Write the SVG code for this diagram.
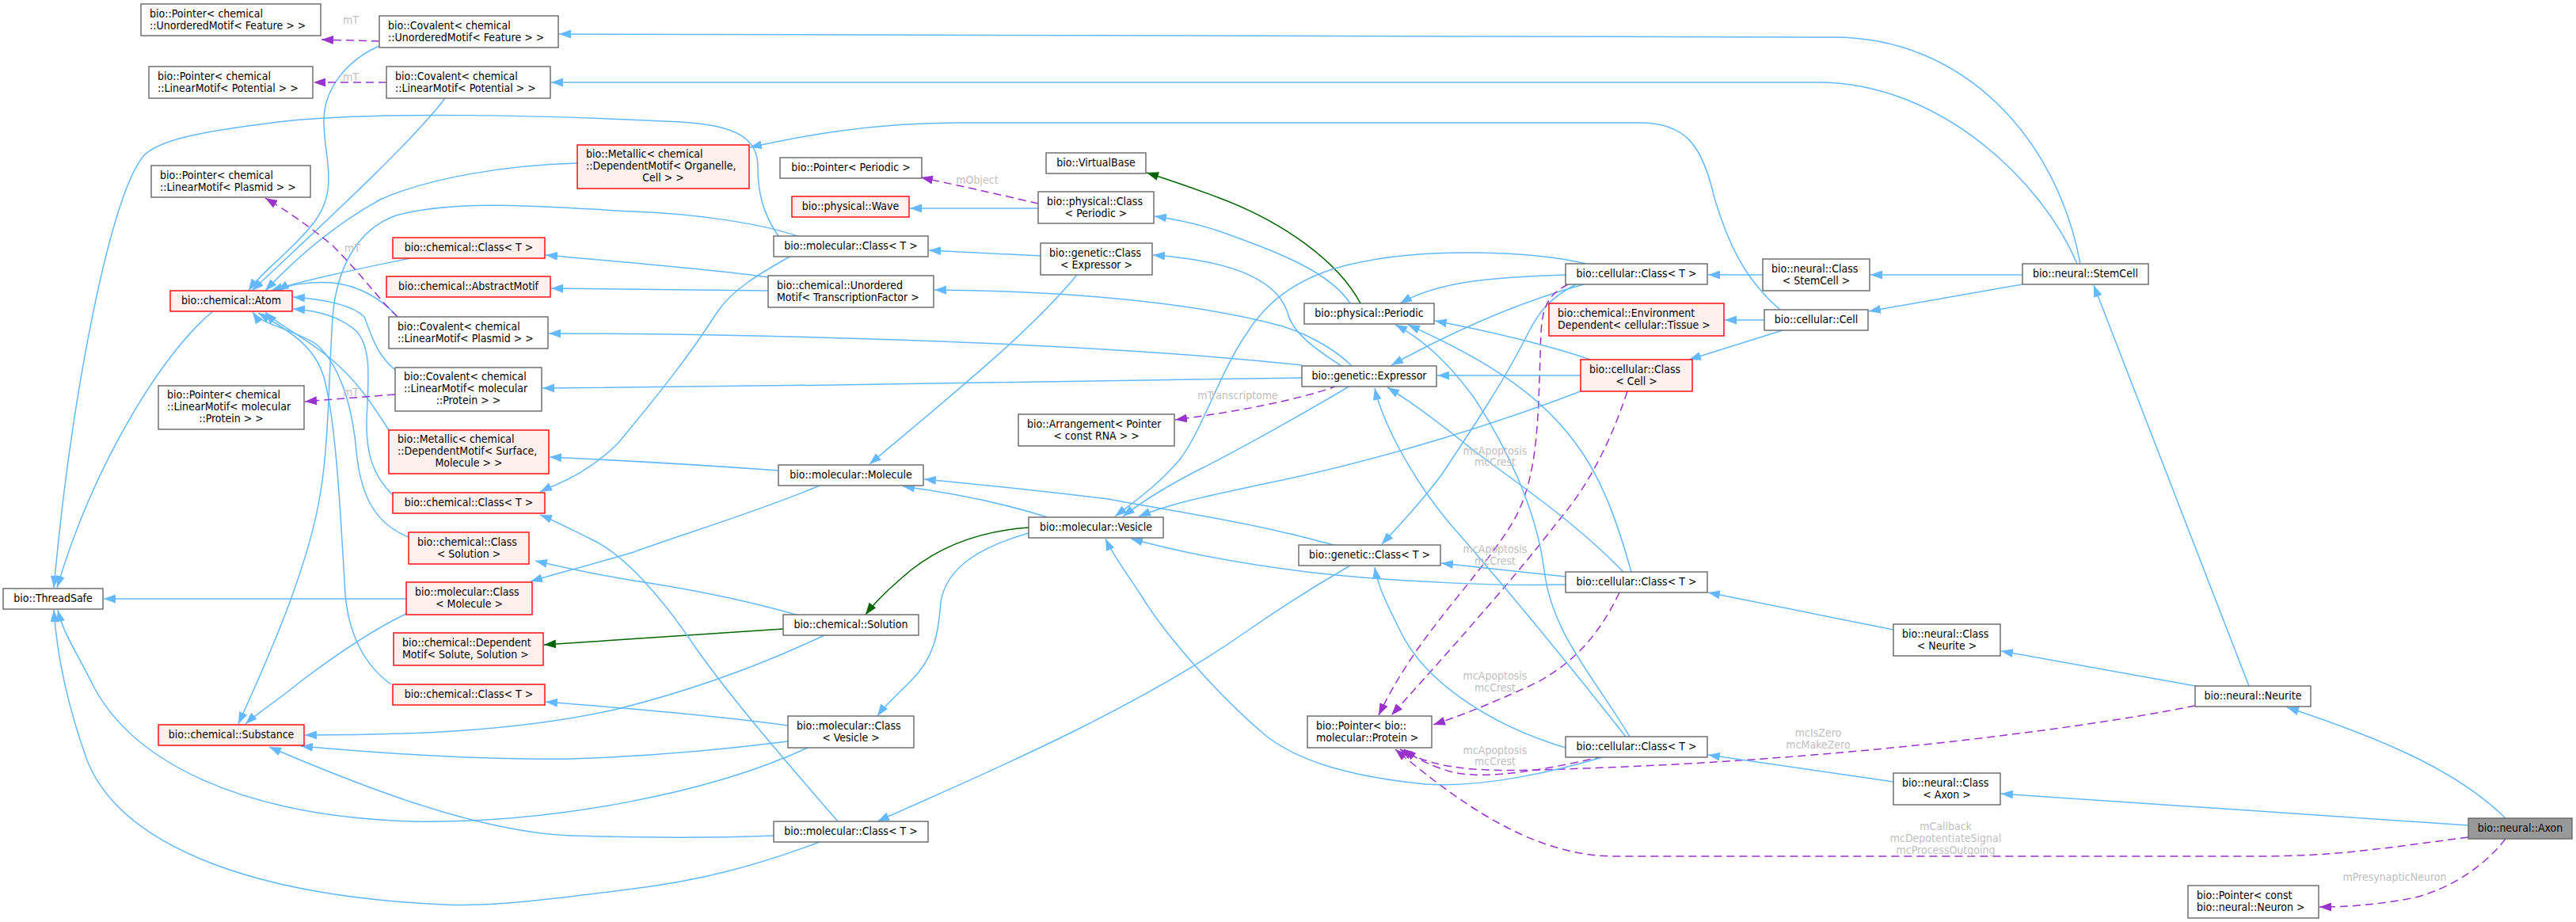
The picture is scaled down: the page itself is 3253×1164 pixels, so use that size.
<svg xmlns="http://www.w3.org/2000/svg" width="3253" height="1164" viewBox="0 0 3253 1164">
<style>
.n rect{fill:#fff;stroke:#666;stroke-width:1.4}
.r rect{fill:#FFF0F0;stroke:#FF0000;stroke-width:1.4}
.m rect{fill:#999;stroke:#666;stroke-width:1.4}
text{font-family:'DejaVu Sans Condensed','Liberation Sans',Arial,sans-serif;font-size:14px;fill:#000}
.c{text-anchor:middle}
.l{text-anchor:start}
.lb{fill:#C0C0C0;text-anchor:middle}
#edges path{fill:none}
.b{stroke:#63B8FF;stroke-width:1.5;marker-end:url(#ab)}
.g{stroke:#006400;stroke-width:1.5;marker-end:url(#ag)}
.d{stroke:#9A32CD;stroke-width:1.5;stroke-dasharray:10,6;marker-end:url(#ad)}
</style>
<defs>
<marker id="ab" markerUnits="userSpaceOnUse" markerWidth="15" markerHeight="11" refX="15" refY="5.5" orient="auto"><path d="M0,0 L15,5.5 L0,11 z" fill="#63B8FF" stroke="none"/></marker>
<marker id="ag" markerUnits="userSpaceOnUse" markerWidth="15" markerHeight="11" refX="15" refY="5.5" orient="auto"><path d="M0,0 L15,5.5 L0,11 z" fill="#006400" stroke="none"/></marker>
<marker id="ad" markerUnits="userSpaceOnUse" markerWidth="15" markerHeight="11" refX="15" refY="5.5" orient="auto"><path d="M0,0 L15,5.5 L0,11 z" fill="#9A32CD" stroke="none"/></marker>
</defs>
<rect x="0" y="0" width="3253" height="1164" fill="#fff"/>
<g id="edges">
<path class="b" d="M2627,333 C2598,175 2480,47 2316,47 L706,43"/>
<path class="b" d="M2623,333 C2580,230 2450,104 2296,104 L696,104"/>
<path class="b" d="M2248,391 C2200,350 2180,300 2165,250 C2150,185 2130,155 2071,155 L1210,155 C1100,155 1010,172 947,186"/>
<path class="b" d="M983,298 C962,268 957,240 957,210 C957,175 930,158 860,154 C700,146 480,140 360,153 C260,165 205,175 183,195 C140,240 90,500 68,742"/>
<path class="b" d="M269,393 C210,440 120,580 72,742"/>
<path class="b" d="M513,756 L131,756"/>
<path class="b" d="M1020,944 C900,1000 700,1040 520,1037 C300,1030 170,960 120,870 C95,820 80,800 73,770"/>
<path class="b" d="M1035,1063 C950,1095 880,1112 800,1122 C700,1135 620,1145 560,1142 C300,1130 150,1060 110,960 C85,890 72,830 68,770"/>
<path class="b" d="M479,58 C440,75 410,110 409,150 C408,180 418,210 414,240 C410,270 390,290 370,310 C345,335 325,350 314,367"/>
<path class="b" d="M562,124 C520,180 400,290 318,367"/>
<path class="b" d="M729,206 C640,208 540,225 480,252 C420,285 370,330 335,367"/>
<path class="b" d="M518,326 C460,338 390,352 342,367"/>
<path class="b" d="M502,400 C480,375 450,360 420,357 C390,355 362,360 350,367"/>
<path class="b" d="M499,467 C475,448 468,420 460,400 C445,385 410,378 370,375"/>
<path class="b" d="M496,625 C470,600 462,570 463,530 C465,480 470,440 450,418 C430,400 400,392 370,390"/>
<path class="b" d="M491,543 C470,510 450,480 420,455 C385,425 350,410 335,394"/>
<path class="b" d="M516,678 C470,660 455,620 450,570 C445,510 428,460 400,435 C370,415 330,410 319,394"/>
<path class="b" d="M494,864 C460,840 440,800 436,750 C430,650 425,540 410,480 C400,440 370,420 326,395"/>
<path class="b" d="M1007,298 C960,282 880,270 800,267 C700,262 580,250 500,272 C450,290 425,340 420,400 C415,480 415,560 405,620 C390,720 330,850 301,914"/>
<path class="b" d="M999,323 C960,345 925,365 905,395 C870,450 830,500 780,560 C740,600 700,612 682,621"/>
<path class="b" d="M970,350 C900,340 800,332 689,322"/>
<path class="b" d="M970,367 L696,364"/>
<path class="b" d="M1707,462 C1690,445 1660,425 1620,412 C1540,390 1400,368 1180,366"/>
<path class="b" d="M1694,462 C1660,440 1632,420 1626,395 C1615,360 1570,330 1456,322"/>
<path class="b" d="M1644,461 C1450,440 1100,422 693,421"/>
<path class="b" d="M1644,477 C1400,480 1000,488 685,490"/>
<path class="b" d="M1705,487 C1650,520 1560,570 1520,590 C1470,615 1440,635 1418,652"/>
<path class="d" d="M1689,487 C1640,505 1560,520 1484,530"/>
<path class="b" d="M1360,347 C1300,420 1200,500 1098,586"/>
<path class="b" d="M1314,323 L1173,316"/>
<path class="b" d="M1311,263 L1149,263"/>
<path class="d" d="M1311,257 C1260,245 1200,232 1163,224"/>
<path class="b" d="M1705,383 C1680,345 1620,320 1540,292 C1510,282 1480,276 1458,273"/>
<path class="g" d="M1718,383 C1690,330 1620,280 1540,250 C1500,235 1470,225 1448,218"/>
<path class="b" d="M1977,347 C1880,350 1815,356 1768,383"/>
<path class="b" d="M2003,333 C1940,318 1800,310 1700,335 C1640,350 1600,380 1575,420 C1540,470 1520,540 1490,580 C1460,615 1430,635 1408,652"/>
<path class="b" d="M2000,359 C1930,378 1850,410 1757,461"/>
<path class="b" d="M1990,359 C1960,375 1945,390 1930,420 C1900,480 1860,540 1820,600 C1790,640 1765,665 1745,687"/>
<path class="d" d="M1980,359 C1960,370 1948,380 1946,420 C1942,520 1945,600 1910,660 C1860,740 1790,800 1741,903"/>
<path class="d" d="M2055,494 C2030,570 2000,620 1966,660 C1920,720 1850,800 1757,903"/>
<path class="d" d="M2045,748 C2020,800 1990,835 1940,862 C1880,890 1840,905 1810,915"/>
<path class="d" d="M2024,955 C1960,970 1880,985 1835,975 C1800,965 1785,955 1773,946"/>
<path class="d" d="M2772,891 C2600,925 2300,960 2000,970 C1880,975 1820,975 1768,946"/>
<path class="d" d="M3117,1057 C3000,1072 2950,1081 2850,1081 L2040,1081 C1940,1081 1850,1020 1762,946"/>
<path class="d" d="M3164,1059 C3140,1090 3100,1120 3050,1133 C3000,1143 2960,1145 2929,1145"/>
<path class="b" d="M3164,1033 C3100,970 3000,930 2888,893"/>
<path class="b" d="M3117,1042 L2527,1002"/>
<path class="b" d="M2772,866 L2527,822"/>
<path class="b" d="M2840,866 L2644,360"/>
<path class="b" d="M2391,795 L2157,748"/>
<path class="b" d="M2391,987 L2157,953"/>
<path class="b" d="M2226,347 L2157,347"/>
<path class="b" d="M2554,347 L2362,347"/>
<path class="b" d="M2554,359 L2360,393"/>
<path class="b" d="M2228,404 L2178,404"/>
<path class="b" d="M2251,417 L2133,454"/>
<path class="b" d="M2008,454 C1960,437 1880,418 1812,405"/>
<path class="b" d="M1996,474 L1815,474"/>
<path class="b" d="M1996,494 C1850,550 1700,590 1600,610 C1530,625 1480,635 1438,652"/>
<path class="b" d="M2060,722 C2040,650 2020,600 1990,560 C1950,505 1890,460 1778,410"/>
<path class="b" d="M2050,722 C1980,650 1900,600 1850,560 C1800,520 1770,500 1752,489"/>
<path class="b" d="M1977,728 C1920,722 1870,716 1820,711"/>
<path class="b" d="M1977,738 C1900,740 1760,735 1650,722 C1570,712 1500,700 1428,680"/>
<path class="b" d="M2058,930 C2010,850 1960,800 1950,720 C1940,640 1900,560 1860,500 C1830,460 1800,430 1762,410"/>
<path class="b" d="M2053,930 C1990,850 1900,740 1830,660 C1780,600 1745,530 1736,490"/>
<path class="b" d="M1977,944 C1880,915 1800,860 1770,800 C1750,760 1740,740 1736,716"/>
<path class="b" d="M2027,955 C1960,975 1870,995 1800,990 C1700,980 1640,960 1600,930 C1540,880 1470,800 1440,750 C1420,720 1405,700 1396,680"/>
<path class="b" d="M1684,688 C1660,682 1640,676 1620,672 C1550,655 1450,640 1400,630 C1300,618 1220,610 1167,605"/>
<path class="b" d="M1705,714 C1660,740 1620,765 1570,800 C1420,905 1200,995 1108,1037"/>
<path class="b" d="M1323,653 C1260,633 1200,622 1140,614"/>
<path class="g" d="M1299,666 C1240,670 1190,688 1150,720 C1120,745 1105,760 1093,776"/>
<path class="b" d="M1299,673 C1240,690 1195,715 1188,760 C1185,800 1180,830 1150,860 C1130,880 1118,890 1108,904"/>
<path class="b" d="M983,594 C900,588 800,582 694,577"/>
<path class="b" d="M1035,613 C960,645 860,675 800,697 C750,712 700,725 670,734"/>
<path class="b" d="M1009,777 C950,760 880,745 800,733 C750,725 710,716 676,708"/>
<path class="g" d="M989,794 C900,800 800,806 687,814"/>
<path class="b" d="M1041,802 C950,845 860,875 780,895 C650,925 500,928 385,928"/>
<path class="b" d="M995,916 C900,903 800,895 689,886"/>
<path class="b" d="M995,936 C900,948 820,955 720,958 C600,960 470,950 380,942"/>
<path class="b" d="M977,1055 C900,1058 820,1058 720,1055 C600,1050 450,990 340,943"/>
<path class="b" d="M1058,1037 C1000,970 930,890 880,820 C840,760 790,700 745,680 C720,668 700,657 682,650"/>
<path class="b" d="M513,775 C470,795 420,830 380,860 C350,885 325,900 310,914"/>
<path class="d" d="M479,52 L406,50"/>
<path class="d" d="M488,104 L396,104"/>
<path class="d" d="M502,400 C480,380 460,350 420,310 C390,285 360,265 335,250"/>
<path class="d" d="M499,498 L385,507"/>
<text class="lb" x="443" y="30">mT</text>
<text class="lb" x="443" y="102">mT</text>
<text class="lb" x="445" y="318">mT</text>
<text class="lb" x="443" y="500">mT</text>
<text class="lb" x="1234" y="232">mObject</text>
<text class="lb" x="1563" y="504">mTranscriptome</text>
<text class="lb" x="1888" y="574">mcApoptosis</text>
<text class="lb" x="1888" y="588">mcCrest</text>
<text class="lb" x="1888" y="698">mcApoptosis</text>
<text class="lb" x="1888" y="713">mcCrest</text>
<text class="lb" x="1888" y="858">mcApoptosis</text>
<text class="lb" x="1888" y="873">mcCrest</text>
<text class="lb" x="1888" y="952">mcApoptosis</text>
<text class="lb" x="1888" y="966">mcCrest</text>
<text class="lb" x="2296" y="930">mcIsZero</text>
<text class="lb" x="2296" y="945">mcMakeZero</text>
<text class="lb" x="2457" y="1048">mCallback</text>
<text class="lb" x="2457" y="1063">mcDepotentiateSignal</text>
<text class="lb" x="2457" y="1078">mcProcessOutgoing</text>
<text class="lb" x="3024" y="1112">mPresynapticNeuron</text>
</g>
<g id="nodes">
<g id="n_ptr_unord_feature" class="n"><rect x="178" y="5" width="227" height="40"/><text class="l" x="189" y="22">bio::Pointer&lt; chemical</text><text class="l" x="189" y="36.5">::UnorderedMotif&lt; Feature &gt; &gt;</text></g>
<g id="n_cov_unord_feature" class="n"><rect x="479" y="20" width="226" height="40"/><text class="l" x="490" y="37">bio::Covalent&lt; chemical</text><text class="l" x="490" y="51.5">::UnorderedMotif&lt; Feature &gt; &gt;</text></g>
<g id="n_ptr_lin_potential" class="n"><rect x="188" y="84" width="207" height="40"/><text class="l" x="199" y="101">bio::Pointer&lt; chemical</text><text class="l" x="199" y="115.5">::LinearMotif&lt; Potential &gt; &gt;</text></g>
<g id="n_cov_lin_potential" class="n"><rect x="488" y="84" width="207" height="40"/><text class="l" x="499" y="101">bio::Covalent&lt; chemical</text><text class="l" x="499" y="115.5">::LinearMotif&lt; Potential &gt; &gt;</text></g>
<g id="n_ptr_lin_plasmid" class="n"><rect x="191" y="209" width="201" height="40"/><text class="l" x="202" y="226">bio::Pointer&lt; chemical</text><text class="l" x="202" y="240.5">::LinearMotif&lt; Plasmid &gt; &gt;</text></g>
<g id="n_metallic_organelle" class="r"><rect x="729" y="183" width="217" height="55"/><text class="l" x="740" y="199">bio::Metallic&lt; chemical</text><text class="l" x="740" y="214">::DependentMotif&lt; Organelle,</text><text class="c" x="837.5" y="229">Cell &gt; &gt;</text></g>
<g id="n_chem_class_t1" class="r"><rect x="496" y="300" width="192" height="26"/><text class="c" x="592" y="317">bio::chemical::Class&lt; T &gt;</text></g>
<g id="n_abstract_motif" class="r"><rect x="488" y="349" width="207" height="26"/><text class="c" x="591.5" y="366">bio::chemical::AbstractMotif</text></g>
<g id="n_atom" class="r"><rect x="215" y="367" width="154" height="26"/><text class="c" x="292" y="384">bio::chemical::Atom</text></g>
<g id="n_ptr_periodic" class="n"><rect x="985" y="199" width="179" height="26"/><text class="c" x="1074.5" y="216">bio::Pointer&lt; Periodic &gt;</text></g>
<g id="n_virtual_base" class="n"><rect x="1321" y="193" width="126" height="26"/><text class="c" x="1384" y="210">bio::VirtualBase</text></g>
<g id="n_wave" class="r"><rect x="1000" y="248" width="148" height="26"/><text class="c" x="1074" y="265">bio::physical::Wave</text></g>
<g id="n_phys_class_periodic" class="n"><rect x="1311" y="242" width="146" height="40"/><text class="l" x="1322" y="259">bio::physical::Class</text><text class="c" x="1384" y="273.5">&lt; Periodic &gt;</text></g>
<g id="n_mol_class_t1" class="n"><rect x="977" y="298" width="195" height="26"/><text class="c" x="1074.5" y="315">bio::molecular::Class&lt; T &gt;</text></g>
<g id="n_gen_class_expressor" class="n"><rect x="1314" y="307" width="141" height="40"/><text class="l" x="1325" y="324">bio::genetic::Class</text><text class="c" x="1384.5" y="338.5">&lt; Expressor &gt;</text></g>
<g id="n_unord_tf" class="n"><rect x="970" y="348" width="209" height="40"/><text class="l" x="981" y="365">bio::chemical::Unordered</text><text class="l" x="981" y="379.5">Motif&lt; TranscriptionFactor &gt;</text></g>
<g id="n_cell_class_t1" class="n"><rect x="1977" y="333" width="179" height="26"/><text class="c" x="2066.5" y="350">bio::cellular::Class&lt; T &gt;</text></g>
<g id="n_neural_class_stemcell" class="n"><rect x="2226" y="327" width="135" height="40"/><text class="l" x="2237" y="344">bio::neural::Class</text><text class="c" x="2293.5" y="358.5">&lt; StemCell &gt;</text></g>
<g id="n_phys_periodic" class="n"><rect x="1647" y="383" width="164" height="26"/><text class="c" x="1729" y="400">bio::physical::Periodic</text></g>
<g id="n_env_dependent" class="r"><rect x="1956" y="383" width="221" height="41"/><text class="l" x="1967" y="400">bio::chemical::Environment</text><text class="l" x="1967" y="414.5">Dependent&lt; cellular::Tissue &gt;</text></g>
<g id="n_cell" class="n"><rect x="2228" y="391" width="131" height="26"/><text class="c" x="2293.5" y="408">bio::cellular::Cell</text></g>
<g id="n_stemcell" class="n"><rect x="2554" y="333" width="159" height="26"/><text class="c" x="2633.5" y="350">bio::neural::StemCell</text></g>
<g id="n_cov_lin_plasmid" class="n"><rect x="491" y="400" width="201" height="40"/><text class="l" x="502" y="417">bio::Covalent&lt; chemical</text><text class="l" x="502" y="431.5">::LinearMotif&lt; Plasmid &gt; &gt;</text></g>
<g id="n_cov_lin_protein" class="n"><rect x="499" y="464" width="185" height="55"/><text class="l" x="510" y="480">bio::Covalent&lt; chemical</text><text class="l" x="510" y="495">::LinearMotif&lt; molecular</text><text class="c" x="591.5" y="510">::Protein &gt; &gt;</text></g>
<g id="n_ptr_lin_protein" class="n"><rect x="200" y="487" width="184" height="55"/><text class="l" x="211" y="503">bio::Pointer&lt; chemical</text><text class="l" x="211" y="518">::LinearMotif&lt; molecular</text><text class="c" x="292" y="533">::Protein &gt; &gt;</text></g>
<g id="n_metallic_surface" class="r"><rect x="491" y="543" width="202" height="55"/><text class="l" x="502" y="559">bio::Metallic&lt; chemical</text><text class="l" x="502" y="574">::DependentMotif&lt; Surface,</text><text class="c" x="592" y="589">Molecule &gt; &gt;</text></g>
<g id="n_chem_class_t2" class="r"><rect x="496" y="622" width="192" height="26"/><text class="c" x="592" y="639">bio::chemical::Class&lt; T &gt;</text></g>
<g id="n_chem_class_solution" class="r"><rect x="516" y="672" width="152" height="40"/><text class="l" x="527" y="689">bio::chemical::Class</text><text class="c" x="592" y="703.5">&lt; Solution &gt;</text></g>
<g id="n_mol_class_molecule" class="r"><rect x="513" y="735" width="159" height="41"/><text class="l" x="524" y="752">bio::molecular::Class</text><text class="c" x="592.5" y="766.5">&lt; Molecule &gt;</text></g>
<g id="n_threadsafe" class="n"><rect x="4" y="743" width="126" height="26"/><text class="c" x="67" y="760">bio::ThreadSafe</text></g>
<g id="n_arrangement" class="n"><rect x="1286" y="523" width="197" height="40"/><text class="l" x="1297" y="540">bio::Arrangement&lt; Pointer</text><text class="c" x="1384.5" y="554.5">&lt; const RNA &gt; &gt;</text></g>
<g id="n_molecule" class="n"><rect x="983" y="587" width="183" height="26"/><text class="c" x="1074.5" y="604">bio::molecular::Molecule</text></g>
<g id="n_vesicle" class="n"><rect x="1299" y="653" width="170" height="26"/><text class="c" x="1384" y="670">bio::molecular::Vesicle</text></g>
<g id="n_expressor" class="n"><rect x="1644" y="462" width="170" height="26"/><text class="c" x="1729" y="479">bio::genetic::Expressor</text></g>
<g id="n_cell_class_cell" class="r"><rect x="1996" y="454" width="141" height="40"/><text class="l" x="2007" y="471">bio::cellular::Class</text><text class="c" x="2066.5" y="485.5">&lt; Cell &gt;</text></g>
<g id="n_gen_class_t" class="n"><rect x="1640" y="688" width="179" height="26"/><text class="c" x="1729.5" y="705">bio::genetic::Class&lt; T &gt;</text></g>
<g id="n_cell_class_t2" class="n"><rect x="1977" y="722" width="179" height="26"/><text class="c" x="2066.5" y="739">bio::cellular::Class&lt; T &gt;</text></g>
<g id="n_dep_motif_solute" class="r"><rect x="497" y="799" width="189" height="41"/><text class="l" x="508" y="816">bio::chemical::Dependent</text><text class="l" x="508" y="830.5">Motif&lt; Solute, Solution &gt;</text></g>
<g id="n_chem_class_t3" class="r"><rect x="496" y="864" width="192" height="26"/><text class="c" x="592" y="881">bio::chemical::Class&lt; T &gt;</text></g>
<g id="n_substance" class="r"><rect x="200" y="915" width="184" height="26"/><text class="c" x="292" y="932">bio::chemical::Substance</text></g>
<g id="n_solution" class="n"><rect x="989" y="776" width="171" height="26"/><text class="c" x="1074.5" y="793">bio::chemical::Solution</text></g>
<g id="n_mol_class_vesicle" class="n"><rect x="995" y="904" width="159" height="40"/><text class="l" x="1006" y="921">bio::molecular::Class</text><text class="c" x="1074.5" y="935.5">&lt; Vesicle &gt;</text></g>
<g id="n_mol_class_t2" class="n"><rect x="977" y="1037" width="195" height="26"/><text class="c" x="1074.5" y="1054">bio::molecular::Class&lt; T &gt;</text></g>
<g id="n_ptr_protein" class="n"><rect x="1651" y="904" width="157" height="40"/><text class="l" x="1662" y="921">bio::Pointer&lt; bio::</text><text class="l" x="1662" y="935.5">molecular::Protein &gt;</text></g>
<g id="n_cell_class_t3" class="n"><rect x="1977" y="930" width="179" height="26"/><text class="c" x="2066.5" y="947">bio::cellular::Class&lt; T &gt;</text></g>
<g id="n_neural_class_neurite" class="n"><rect x="2391" y="788" width="135" height="40"/><text class="l" x="2402" y="805">bio::neural::Class</text><text class="c" x="2458.5" y="819.5">&lt; Neurite &gt;</text></g>
<g id="n_neural_class_axon" class="n"><rect x="2391" y="976" width="135" height="40"/><text class="l" x="2402" y="993">bio::neural::Class</text><text class="c" x="2458.5" y="1007.5">&lt; Axon &gt;</text></g>
<g id="n_neurite" class="n"><rect x="2772" y="866" width="146" height="26"/><text class="c" x="2845" y="883">bio::neural::Neurite</text></g>
<g id="n_axon" class="m"><rect x="3117" y="1033" width="131" height="26"/><text class="c" x="3182.5" y="1050">bio::neural::Axon</text></g>
<g id="n_ptr_neuron" class="n"><rect x="2763" y="1118" width="165" height="41"/><text class="l" x="2774" y="1135">bio::Pointer&lt; const</text><text class="l" x="2774" y="1149.5">bio::neural::Neuron &gt;</text></g>
</g>
</svg>
